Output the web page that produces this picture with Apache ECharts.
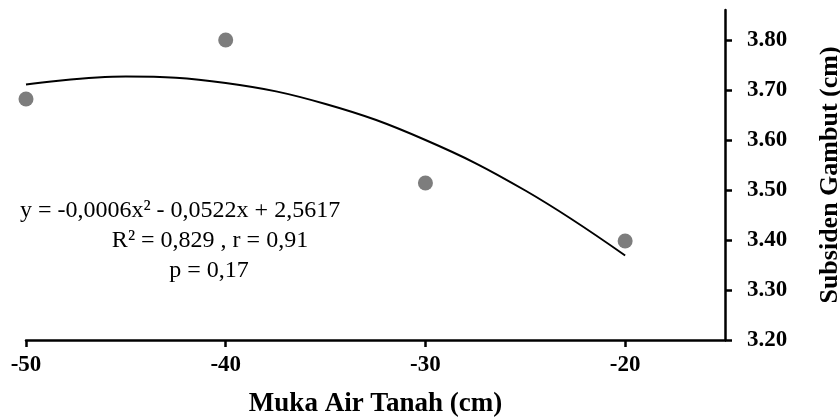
<!DOCTYPE html>
<html>
<head>
<meta charset="utf-8">
<script src="https://cdn.jsdelivr.net/npm/echarts@6/dist/echarts.min.js"></script>
<style>html,body{margin:0;padding:0;background:#fff}#c{width:840px;height:417px}</style>
</head>
<body>
<div id="c"></div>
<script>
// Observed points
var waterLevel = [-50, -40, -30, -20];
var subsidence = [3.682, 3.80, 3.514, 3.398];
// Polynomial trendline
var trendX = [-50, -45, -40, -35, -30, -25, -20];
var trendY = [3.711, 3.727, 3.714, 3.672, 3.600, 3.499, 3.369];
// Tick labels
var xTicks = [-50, -40, -30, -20];
var yTicks = [3.20, 3.30, 3.40, 3.50, 3.60, 3.70, 3.80];
var annotation = ['y = -0,0006x\u00B2 - 0,0522x + 2,5617', 'R\u00B2 = 0,829 , r = 0,91', 'p = 0,17'];

var serif = '"Liberation Serif", "Times New Roman", serif';
var chart = echarts.init(document.getElementById('c'));
var annoLayout = [
  { x: 180, y: 211 },
  { x: 210, y: 241 },
  { x: 209, y: 271 }
];
chart.setOption({
  animation: false,
  backgroundColor: '#fff',
  grid: { left: 26, right: 115, top: 10, bottom: 77, containLabel: false, outerBoundsMode: 'none' },
  xAxis: {
    type: 'value', min: -50, max: -15, interval: 10,
    splitLine: { show: false },
    axisLine: { lineStyle: { color: '#000', width: 2.5 } },
    axisTick: { length: 7, lineStyle: { color: '#000', width: 2.5 }, customValues: xTicks },
    axisLabel: { customValues: xTicks, margin: 14, color: '#000', fontFamily: serif, fontWeight: 'bold', fontSize: 23 },
    name: 'Muka Air Tanah (cm)', nameLocation: 'middle', nameGap: 51,
    nameTextStyle: { color: '#000', fontFamily: serif, fontWeight: 'bold', fontSize: 27 }
  },
  yAxis: {
    type: 'value', position: 'right', min: 3.2, max: 3.86, interval: 0.1,
    splitLine: { show: false },
    axisLine: { lineStyle: { color: '#000', width: 2.5 } },
    axisTick: { length: 7, lineStyle: { color: '#000', width: 2.5 }, customValues: yTicks },
    axisLabel: { customValues: yTicks, margin: 22, color: '#000', fontFamily: serif, fontWeight: 'bold', fontSize: 23,
      formatter: function (v) { return v.toFixed(2); } },
    name: 'Subsiden Gambut (cm)', nameLocation: 'middle', nameRotate: 90, nameGap: 92,
    nameTextStyle: { color: '#000', fontFamily: serif, fontWeight: 'bold', fontSize: 26 }
  },
  series: [
    {
      type: 'line', data: trendX.map(function (x, i) { return [x, trendY[i]]; }),
      showSymbol: false, smooth: 0.4, lineStyle: { color: '#000', width: 2 }, z: 2
    },
    {
      type: 'scatter', data: waterLevel.map(function (x, i) { return [x, subsidence[i]]; }),
      symbolSize: 15, itemStyle: { color: '#5c5c5c' }, z: 3
    }
  ],
  graphic: annotation.map(function (t, i) {
    return {
      type: 'text', x: annoLayout[i].x, y: annoLayout[i].y,
      style: { text: t, fill: '#000', font: '24px ' + serif, align: 'center', verticalAlign: 'middle' }
    };
  })
});
</script>
</body>
</html>
